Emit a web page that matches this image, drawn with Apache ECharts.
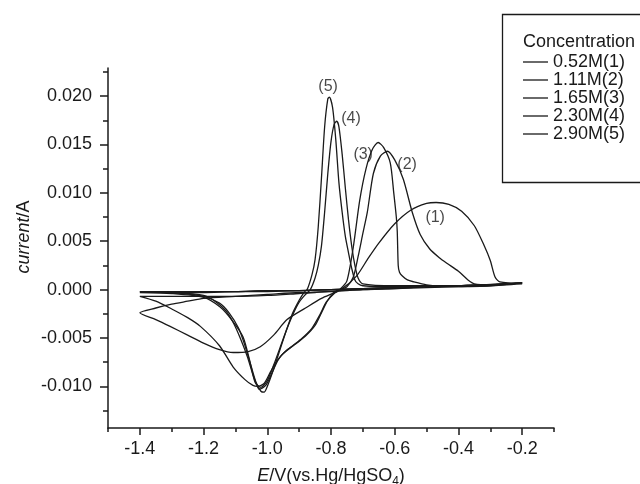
<!DOCTYPE html>
<html><head><meta charset="utf-8">
<script src="https://cdn.jsdelivr.net/npm/echarts@6/dist/echarts.min.js"></script>
<style>html,body{margin:0;padding:0;background:#fff}#c{width:640px;height:484px}</style>
</head><body><div id="c"></div>
<script>
// ---- data (E in V vs Hg/HgSO4, current in A); each curve is a closed CV loop ----
var seriesNames = ['0.52M(1)', '1.11M(2)', '1.65M(3)', '2.30M(4)', '2.90M(5)'];

var E1 = [-0.2,-0.3,-0.4,-0.5,-0.6,-0.7,-0.8,-0.9,-1.0,-1.1,-1.2,-1.25,-1.3,-1.35,-1.4,
  -1.35,-1.305,-1.25,-1.202,-1.15,-1.107,-1.06,-1.022,-0.98,-0.938,-0.88,-0.83,-0.77,-0.72,-0.686,-0.65,-0.60,-0.55,-0.50,-0.47,-0.43,-0.39,-0.35,-0.32,-0.30,-0.285,-0.27,-0.2];
var I1 = [0.0006,0.0004,0.0003,0.0002,0.0001,0.0,-0.0002,-0.0003,-0.0005,-0.0007,-0.0009,-0.0012,-0.0015,-0.0019,-0.0024,
  -0.0031,-0.0038,-0.0047,-0.0055,-0.0062,-0.0065,-0.0064,-0.0059,-0.0047,-0.0031,-0.0019,-0.0009,0.0,0.0014,0.0031,0.0048,0.0068,0.0082,0.0089,0.0090,0.0088,0.0081,0.0066,0.0046,0.0030,0.0013,0.0008,0.0006];

var E2 = [-0.2,-0.3,-0.4,-0.5,-0.6,-0.7,-0.78,-0.85,-0.9,-1.0,-1.1,-1.2,-1.3,-1.4,
  -1.35,-1.3,-1.25,-1.21,-1.15,-1.107,-1.07,-1.045,-1.03,-1.01,-0.99,-0.97,-0.95,-0.92,-0.89,-0.86,-0.835,-0.815,-0.79,-0.77,-0.75,-0.73,-0.715,-0.70,-0.686,-0.667,-0.645,-0.623,-0.60,-0.573,-0.545,-0.52,-0.49,-0.46,-0.435,-0.40,-0.37,-0.35,-0.30,-0.2];
var I2 = [0.0007,0.0005,0.0004,0.0003,0.0001,0.0,-0.0001,-0.0003,-0.0004,-0.0006,-0.0007,-0.0007,-0.0007,-0.0007,
  -0.0012,-0.0020,-0.0029,-0.0038,-0.0058,-0.0080,-0.0093,-0.0099,-0.0100,-0.0097,-0.0085,-0.0074,-0.0066,-0.0058,-0.0050,-0.0040,-0.0026,-0.0013,-0.0004,0.0,0.0003,0.0013,0.0034,0.0058,0.0080,0.0120,0.0138,0.0143,0.0134,0.0114,0.0080,0.0057,0.0042,0.0033,0.0027,0.0019,0.0010,0.0006,0.0005,0.0007];

var E3 = [-0.2,-0.3,-0.4,-0.5,-0.6,-0.7,-0.8,-0.9,-1.0,-1.1,-1.2,-1.3,-1.4,
  -1.3,-1.2,-1.16,-1.13,-1.107,-1.085,-1.063,-1.045,-1.035,-1.025,-1.005,-0.985,-0.965,-0.94,-0.91,-0.88,-0.85,-0.83,-0.81,-0.79,-0.77,-0.75,-0.73,-0.71,-0.69,-0.67,-0.652,-0.635,-0.614,-0.603,-0.595,-0.592,-0.589,-0.585,-0.576,-0.56,-0.54,-0.50,-0.44,-0.3,-0.2];
var I3 = [0.0007,0.0005,0.0004,0.0003,0.0002,0.0001,0.0,-0.0001,-0.0001,-0.0002,-0.0002,-0.0002,-0.0002,
  -0.0003,-0.0006,-0.0013,-0.0022,-0.0034,-0.0050,-0.0069,-0.0088,-0.0097,-0.0103,-0.0099,-0.0086,-0.0072,-0.0063,-0.0056,-0.0048,-0.0037,-0.0024,-0.0011,-0.0003,0.0001,0.0009,0.0044,0.0092,0.0125,0.0145,0.0152,0.0147,0.0131,0.0100,0.0075,0.0060,0.0025,0.0018,0.0014,0.0010,0.0008,0.0005,0.0003,0.0004,0.0007];

var E4 = [-0.2,-0.3,-0.4,-0.5,-0.6,-0.7,-0.8,-0.9,-1.0,-1.1,-1.2,-1.3,-1.4,
  -1.3,-1.2,-1.148,-1.11,-1.076,-1.054,-1.038,-1.02,-1.0,-0.98,-0.96,-0.94,-0.92,-0.90,-0.88,-0.865,-0.85,-0.84,-0.83,-0.82,-0.81,-0.80,-0.79,-0.782,-0.775,-0.765,-0.755,-0.745,-0.735,-0.725,-0.715,-0.70,-0.6,-0.4,-0.2];
var I4 = [0.0007,0.0005,0.0004,0.0003,0.0002,0.0001,0.0,-0.0001,-0.0002,-0.0002,-0.0003,-0.0003,-0.0003,
  -0.0004,-0.0008,-0.0018,-0.0032,-0.0049,-0.0075,-0.0096,-0.0101,-0.0094,-0.0078,-0.0060,-0.0042,-0.0026,-0.0013,-0.0005,0.0,0.0012,0.0025,0.0045,0.0080,0.0120,0.0153,0.0171,0.0174,0.0168,0.0140,0.0105,0.0072,0.0045,0.0025,0.0012,0.0006,0.0004,0.0004,0.0007];

var E5 = [-0.2,-0.3,-0.4,-0.5,-0.6,-0.7,-0.8,-0.9,-1.0,-1.1,-1.2,-1.3,-1.4,
  -1.3,-1.2,-1.15,-1.12,-1.09,-1.07,-1.05,-1.035,-1.02,-1.01,-1.0,-0.98,-0.96,-0.94,-0.92,-0.90,-0.885,-0.875,-0.86,-0.85,-0.84,-0.83,-0.82,-0.81,-0.805,-0.795,-0.785,-0.775,-0.765,-0.755,-0.745,-0.735,-0.725,-0.715,-0.70,-0.6,-0.4,-0.2];
var I5 = [0.0007,0.0005,0.0004,0.0003,0.0002,0.0001,0.0,-0.0001,-0.0001,-0.0002,-0.0002,-0.0002,-0.0002,
  -0.0003,-0.0007,-0.0014,-0.0024,-0.0040,-0.0058,-0.0080,-0.0096,-0.0105,-0.0106,-0.0100,-0.0082,-0.0062,-0.0042,-0.0024,-0.0011,-0.0003,0.0,0.0015,0.0031,0.0065,0.0115,0.0168,0.0197,0.0199,0.0188,0.0155,0.0110,0.0080,0.0055,0.0038,0.0022,0.0010,0.0006,0.0004,0.0003,0.0004,0.0007];

// peak annotations (data coordinates)
var peakLabelText = ['(1)', '(2)', '(3)', '(4)', '(5)'];
var peakLabelE = [-0.473, -0.561, -0.699, -0.737, -0.809];
var peakLabelI = [0.0074, 0.0129, 0.0140, 0.0177, 0.0210];

// axis ticks
var xMajorTicks = [-1.4, -1.2, -1.0, -0.8, -0.6, -0.4, -0.2];
var xMinorTicks = [-1.5, -1.3, -1.1, -0.9, -0.7, -0.5, -0.3, -0.1];
var yMajorTicks = [-0.010, -0.005, 0.000, 0.005, 0.010, 0.015, 0.020];
var yMinorTicks = [-0.0125, -0.0075, -0.0025, 0.0025, 0.0075, 0.0125, 0.0175, 0.0225];

var curvesE = [E1, E2, E3, E4, E5];
var curvesI = [I1, I2, I3, I4, I5];

var FONT = 'Liberation Sans, Arial, Helvetica, sans-serif';
var INK = '#1a1a1a';
var chart = echarts.init(document.getElementById('c'), null, {renderer: 'canvas'});

var series = curvesE.map(function (E, k) {
  var I = curvesI[k];
  return {
    name: seriesNames[k], type: 'line', xAxisIndex: 0, yAxisIndex: 0,
    data: E.map(function (e, i) { return [e, I[i]]; }),
    showSymbol: false, symbol: 'none', smooth: 0.25,
    lineStyle: {color: INK, width: 1.3}, itemStyle: {color: INK},
    silent: true, animation: false, z: 3
  };
});
series.push({
  type: 'scatter', xAxisIndex: 0, yAxisIndex: 0, symbolSize: 0, silent: true, animation: false,
  data: peakLabelE.map(function (e, i) { return {value: [e, peakLabelI[i]], label: {formatter: peakLabelText[i]}}; }),
  label: {show: true, position: 'inside', color: INK, fontSize: 16, fontFamily: FONT}
});

var xMin = -1.5, xMax = -0.1, yMin = -0.0143, yMax = 0.0229;
var axisLineStyle = {color: INK, width: 1.5};

chart.setOption({
  animation: false,
  backgroundColor: '#fff',
  grid: {left: 108, right: 86, top: 68, bottom: 56, containLabel: false, outerBoundsMode: 'none'},
  xAxis: [{
    type: 'value', min: xMin, max: xMax, position: 'bottom',
    axisLine: {show: true, onZero: false, lineStyle: axisLineStyle},
    axisTick: {show: true, length: 7, lineStyle: axisLineStyle, customValues: xMajorTicks},
    axisLabel: {show: true, customValues: xMajorTicks, margin: 12, color: INK, fontSize: 18, fontFamily: FONT,
      formatter: function (v) { return v.toFixed(1); }},
    splitLine: {show: false},
    name: '{i|E}/V(vs.Hg/HgSO{s|4})', nameLocation: 'middle', nameGap: 36,
    nameTextStyle: {color: INK, fontSize: 18, fontFamily: FONT,
      rich: {i: {fontStyle: 'italic', fontSize: 18, fontFamily: FONT, color: INK},
             s: {fontSize: 12, fontFamily: FONT, color: INK, verticalAlign: 'bottom', padding: [12, 0, 0, 0]}}}
  }, {
    type: 'value', min: xMin, max: xMax, position: 'bottom', gridIndex: 0,
    axisLine: {show: false, onZero: false},
    axisTick: {show: true, length: 4, lineStyle: axisLineStyle, customValues: xMinorTicks},
    axisLabel: {show: false}, splitLine: {show: false}
  }],
  yAxis: [{
    type: 'value', min: yMin, max: yMax, position: 'left',
    axisLine: {show: true, onZero: false, lineStyle: axisLineStyle},
    axisTick: {show: true, length: 8, lineStyle: axisLineStyle, customValues: yMajorTicks},
    axisLabel: {show: true, customValues: yMajorTicks, margin: 16, color: INK, fontSize: 18, fontFamily: FONT,
      formatter: function (v) { var s = v.toFixed(3); return s === '-0.000' ? '0.000' : s; }},
    splitLine: {show: false}
  }, {
    type: 'value', min: yMin, max: yMax, position: 'left', gridIndex: 0,
    axisLine: {show: false, onZero: false},
    axisTick: {show: true, length: 5, lineStyle: axisLineStyle, customValues: yMinorTicks},
    axisLabel: {show: false}, splitLine: {show: false}
  }],
  legend: {
    show: true, orient: 'vertical', left: 523, top: 53, padding: 0,
    data: seriesNames, icon: 'rect', itemWidth: 25, itemHeight: 1.3, itemGap: 0,
    selectedMode: false, inactiveColor: INK,
    textStyle: {color: INK, fontSize: 18, fontFamily: FONT, lineHeight: 17.5, padding: [0, 0, 0, 0]}
  },
  graphic: [
    {type: 'rect', left: 500, top: 12, shape: {x: 0, y: 0, width: 160, height: 168},
     style: {fill: 'none', stroke: INK, lineWidth: 1.3}, silent: true, z: 10},
    {type: 'text', x: 523, y: 42, style: {text: 'Concentration', fill: INK, fontSize: 18, fontFamily: FONT,
      textAlign: 'left', textVerticalAlign: 'middle'}, silent: true, z: 10},
    {type: 'text', x: 24, y: 237, rotation: Math.PI / 2,
     style: {text: '{i|current}/A', fill: INK, fontSize: 18, fontFamily: FONT, align: 'center', verticalAlign: 'middle',
       rich: {i: {fontStyle: 'italic', fontSize: 18, fontFamily: FONT, fill: INK}}}, silent: true, z: 10}
  ],
  series: series
});
</script></body></html>
